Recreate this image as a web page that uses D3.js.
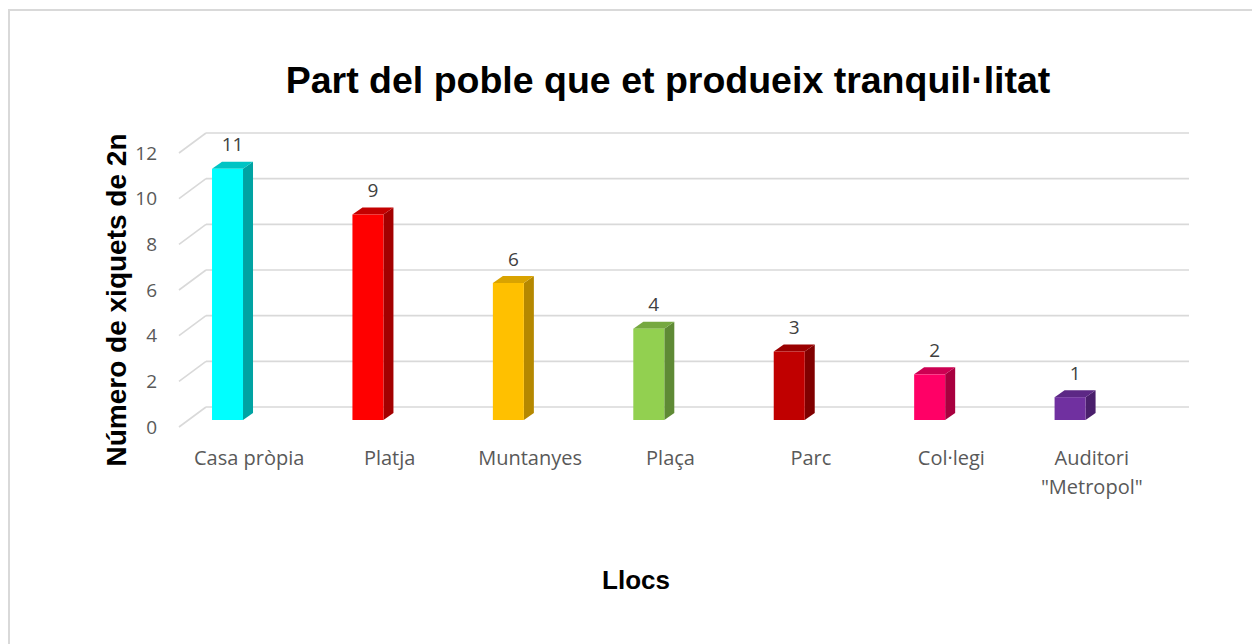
<!DOCTYPE html>
<html>
<head>
<meta charset="utf-8">
<script src="https://cdn.jsdelivr.net/npm/d3@7"></script>
<style>
  body { margin: 0; background: #fff; }
  svg { display: block; }
</style>
</head>
<body>
<svg id="chart"></svg>
<script>
// Data
const categories = [
  "Casa pròpia",
  "Platja",
  "Muntanyes",
  "Plaça",
  "Parc",
  "Col·legi",
  "Auditori \"Metropol\"",
];
const values = [11, 9, 6, 4, 3, 2, 1];
const frontColors = ["#00ffff", "#ff0000", "#ffc000", "#92d050", "#c00000", "#ff0066", "#7030a0"];
const sideColors = ["#00a3a3", "#a30000", "#b58800", "#5f8a35", "#800000", "#a8003f", "#4a1f6c"];
const topColors = ["#00c4c4", "#c40000", "#d9a300", "#76a840", "#9a0000", "#cc0052", "#5c2885"];
const yTicks = [0, 2, 4, 6, 8, 10, 12];

const width = 1252;
const height = 644;

const svg = d3.select("#chart").attr("width", width).attr("height", height);

// chart frame (only top and left edges visible)
svg.append("rect")
  .attr("x", 9).attr("y", 10)
  .attr("width", 1300).attr("height", 700)
  .attr("fill", "none")
  .attr("stroke", "#d9d9d9")
  .attr("stroke-width", 2);

// 3D walls: back plane and front plane
const depth = { dx: 27, dy: -20 };
const yBack = d3.scaleLinear().domain([0, 12]).range([407, 133]);
const yFront = (v) => yBack(v) - depth.dy;
const yBar = (v) => yBack(v) + 13;

const xFront = d3.scaleBand().domain(categories).range([179, 1162]);
const backRight = 1189;

const grid = svg.append("g")
  .attr("stroke", "#d9d9d9")
  .attr("stroke-width", 1.6)
  .attr("fill", "none");

yTicks.forEach((t) => {
  grid.append("line")
    .attr("x1", 179 + depth.dx).attr("x2", backRight)
    .attr("y1", yBack(t)).attr("y2", yBack(t));
  grid.append("line")
    .attr("x1", 179).attr("y1", yFront(t))
    .attr("x2", 179 + depth.dx).attr("y2", yBack(t));
});

// y tick labels
svg.append("g")
  .selectAll("text")
  .data(yTicks)
  .join("text")
  .attr("x", 157)
  .attr("y", (d) => yFront(d))
  .attr("dy", "0.35em")
  .attr("text-anchor", "end")
  .attr("font-family", "'Open Sans', sans-serif")
  .attr("font-size", "19px")
  .attr("fill", "#595959")
  .text((d) => d);

// bars
const barW = 31;
const bd = { dx: 10, dy: -7 };
const bars = svg.append("g");

categories.forEach((c, i) => {
  const cx = xFront(c) + xFront.bandwidth() / 2 - 21.7;
  const x0 = cx - barW / 2;
  const x1 = cx + barW / 2;
  const yTop = yBar(values[i]);
  const y0 = yBar(0);

  // side face
  bars.append("path")
    .attr("d", `M${x1},${y0}L${x1 + bd.dx},${y0 + bd.dy}L${x1 + bd.dx},${yTop + bd.dy}L${x1},${yTop}Z`)
    .attr("fill", sideColors[i]);
  // top face
  bars.append("path")
    .attr("d", `M${x0},${yTop}L${x1},${yTop}L${x1 + bd.dx},${yTop + bd.dy}L${x0 + bd.dx},${yTop + bd.dy}Z`)
    .attr("fill", topColors[i]);
  // front face
  bars.append("rect")
    .attr("x", x0).attr("y", yTop)
    .attr("width", barW).attr("height", y0 - yTop)
    .attr("fill", frontColors[i]);

  // value label
  bars.append("text")
    .attr("x", cx + 5)
    .attr("y", yTop + bd.dy - 17)
    .attr("dy", "0.35em")
    .attr("text-anchor", "middle")
    .attr("font-family", "'Open Sans', sans-serif")
    .attr("font-size", "19px")
    .attr("fill", "#404040")
    .text(values[i]);
});

// category labels
const catLabels = svg.append("g")
  .attr("font-family", "'Open Sans', sans-serif")
  .attr("font-size", "20px")
  .attr("fill", "#595959")
  .attr("text-anchor", "middle");

categories.forEach((c) => {
  const lines = c === "Auditori \"Metropol\"" ? ["Auditori", "\"Metropol\""] : [c];
  const t = catLabels.append("text")
    .attr("x", xFront(c) + xFront.bandwidth() / 2)
    .attr("y", 458);
  lines.forEach((l, k) => {
    t.append("tspan")
      .attr("x", xFront(c) + xFront.bandwidth() / 2)
      .attr("dy", k === 0 ? "0.35em" : "1.45em")
      .text(l);
  });
});

// titles
svg.append("text")
  .attr("x", 668).attr("y", 80)
  .attr("dy", "0.35em")
  .attr("text-anchor", "middle")
  .attr("font-family", "'Liberation Sans', Arial, sans-serif")
  .attr("font-weight", "bold")
  .attr("font-size", "37.5px")
  .attr("fill", "#000")
  .text("Part del poble que et produeix tranquil·litat");

svg.append("text")
  .attr("transform", "translate(116,300) rotate(-90)")
  .attr("dy", "0.35em")
  .attr("text-anchor", "middle")
  .attr("font-family", "'Liberation Sans', Arial, sans-serif")
  .attr("font-weight", "bold")
  .attr("font-size", "28px")
  .attr("fill", "#000")
  .text("Número de xiquets de 2n");

svg.append("text")
  .attr("x", 636).attr("y", 580)
  .attr("dy", "0.35em")
  .attr("text-anchor", "middle")
  .attr("font-family", "'Liberation Sans', Arial, sans-serif")
  .attr("font-weight", "bold")
  .attr("font-size", "26px")
  .attr("fill", "#000")
  .text("Llocs");
</script>
</body>
</html>
